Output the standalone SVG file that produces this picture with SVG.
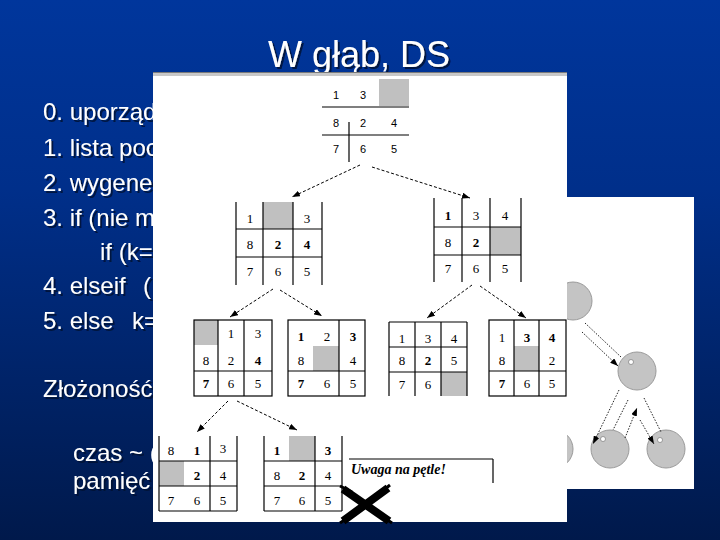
<svg xmlns="http://www.w3.org/2000/svg" width="720" height="540" viewBox="0 0 720 540">
<defs>
<linearGradient id="bg" x1="0" y1="0" x2="0" y2="1">
<stop offset="0" stop-color="#00369c"/>
<stop offset="0.35" stop-color="#002f8a"/>
<stop offset="1" stop-color="#00194b"/>
</linearGradient>
<filter id="sh" x="-5%" y="-20%" width="115%" height="150%"><feDropShadow dx="2" dy="2" stdDeviation="0.4" flood-color="#000a30" flood-opacity="0.8"/></filter>
<marker id="ah" viewBox="0 0 8 6" refX="8" refY="3" markerWidth="8" markerHeight="6" orient="auto" markerUnits="userSpaceOnUse"><path d="M0,0 L8,3 L0,6 z" fill="#000"/></marker>
</defs>
<style>
.t{font-family:"Liberation Sans",Arial,sans-serif;font-size:24px;fill:#fff}
.g line,.g rect.o{stroke:#000;stroke-width:1.2;fill:none}
.gray{fill:#c0c0c0}
.n{font-family:"Liberation Serif","Times New Roman",serif;font-size:13px;text-anchor:middle;fill:#000}
.r{font-family:"Liberation Sans",Arial,sans-serif;font-size:11px;text-anchor:middle;fill:#000}
.c line{stroke:#000;stroke-width:1;stroke-dasharray:3 2;marker-end:url(#ah)}
.d line{stroke:#222;stroke-width:1;stroke-dasharray:1.5 1.5}
.d line.a{marker-end:url(#ah)}
.ci{fill:#c4c4c4;stroke:#9a9a9a;stroke-width:1}
.dot{fill:#fff;stroke:#666;stroke-width:0.6}
</style>
<rect x="0" y="0" width="720" height="540" fill="url(#bg)"/>

<text x="359" y="67" text-anchor="middle" font-family="Liberation Sans, Arial, sans-serif" font-size="36" fill="#fff" filter="url(#sh)">W głąb, DS</text>

<g id="list" class="t" filter="url(#sh)">
<text x="43" y="120">0. uporządk</text>
<text x="43" y="156">1. lista pocz</text>
<text x="43" y="191">2. wygener</text>
<text x="43" y="226">3. if (nie ma</text>
<text x="100" y="260">if (k==</text>
<text x="43" y="294">4. elseif <tspan x="143">(</tspan></text>
<text x="43" y="329">5. else <tspan x="132">k=</tspan></text>
<text x="43" y="397">Złożoność</text>
<text x="73" y="461">czas ~ (</text>
<text x="73" y="489">pamięć</text>
</g>

<g id="image2">
<rect x="540" y="197" width="154" height="292" fill="#fff"/>
<g id="c0"><circle class="ci" cx="573" cy="301" r="19"/></g>
<g id="c1"><circle class="ci" cx="637" cy="371" r="19"/><circle class="dot" cx="631" cy="362" r="2.5"/></g>
<g id="c2"><circle class="ci" cx="554" cy="449" r="19"/></g>
<g id="c3"><circle class="ci" cx="610" cy="449" r="19"/><circle class="dot" cx="603" cy="439" r="2.5"/></g>
<g id="c4"><circle class="ci" cx="666" cy="449" r="19"/><circle class="dot" cx="660" cy="440" r="2.5"/></g>
<g id="tree-edges" class="d">
<line x1="585" y1="323" x2="621" y2="357"/>
<line class="a" x1="582" y1="332" x2="618" y2="366"/>
<line class="a" x1="619" y1="390" x2="593" y2="444"/>
<line x1="628" y1="400" x2="613" y2="430"/>
<line class="a" x1="625" y1="438" x2="637" y2="408"/>
<line x1="644" y1="398" x2="661" y2="432"/>
<line class="a" x1="640" y1="420" x2="654" y2="444"/>
</g>
</g>

<g id="image1">
<rect x="153" y="72" width="414" height="450" fill="#fff"/>
<rect x="153" y="72" width="414" height="4" fill="#c8c8c8"/>
<line x1="153" y1="72.5" x2="567" y2="72.5" stroke="#7a7a7a" stroke-width="1"/>
</g>

<g id="root" class="g">
<rect class="gray" x="379" y="79" width="30" height="27"/>
<line x1="322" y1="107" x2="409" y2="107"/>
<line x1="322" y1="135" x2="409" y2="135"/>
<line x1="349" y1="122" x2="349" y2="162"/>
<text class="r" x="336" y="99">1</text><text class="r" x="363" y="99">3</text>
<text class="r" x="336" y="127">8</text><text class="r" x="363" y="127">2</text><text class="r" x="394" y="127">4</text>
<text class="r" x="336" y="153">7</text><text class="r" x="363" y="153">6</text><text class="r" x="394" y="153">5</text>
</g>

<g id="l1a" class="g">
<rect class="gray" x="263" y="202" width="30" height="27"/>
<line x1="236" y1="202" x2="236" y2="285"/><line x1="263" y1="202" x2="263" y2="285"/>
<line x1="293" y1="202" x2="293" y2="285"/><line x1="322" y1="202" x2="322" y2="285"/>
<line x1="236" y1="229" x2="322" y2="229"/><line x1="236" y1="257" x2="322" y2="257"/>
<text class="n" x="250" y="223">1</text><text class="n" x="307" y="223">3</text>
<text class="n" x="250" y="249">8</text><text class="n" x="278" y="249" font-weight="bold">2</text><text class="n" x="307" y="249" font-weight="bold">4</text>
<text class="n" x="250" y="276">7</text><text class="n" x="278" y="276">6</text><text class="n" x="307" y="276">5</text>
</g>

<g id="l1b" class="g">
<rect class="gray" x="490" y="227" width="31" height="28"/>
<line x1="434" y1="198" x2="434" y2="282"/><line x1="462" y1="198" x2="462" y2="282"/>
<line x1="490" y1="198" x2="490" y2="282"/><line x1="521" y1="198" x2="521" y2="282"/>
<line x1="434" y1="227" x2="521" y2="227"/><line x1="434" y1="255" x2="521" y2="255"/>
<text class="n" x="448" y="220" font-weight="bold">1</text><text class="n" x="476" y="220">3</text><text class="n" x="505" y="220">4</text>
<text class="n" x="448" y="247">8</text><text class="n" x="476" y="247" font-weight="bold">2</text>
<text class="n" x="448" y="273">7</text><text class="n" x="476" y="273">6</text><text class="n" x="505" y="273">5</text>
</g>

<g id="l2a" class="g">
<rect class="gray" x="194" y="320" width="24" height="25"/>
<rect class="o" x="194" y="320" width="78" height="76"/>
<line x1="218" y1="320" x2="218" y2="396"/><line x1="244" y1="320" x2="244" y2="396"/>
<line x1="194" y1="371" x2="272" y2="371"/>
<text class="n" x="231" y="338">1</text><text class="n" x="258" y="338">3</text>
<text class="n" x="206" y="365">8</text><text class="n" x="231" y="365">2</text><text class="n" x="258" y="365" font-weight="bold">4</text>
<text class="n" x="206" y="388" font-weight="bold">7</text><text class="n" x="231" y="388">6</text><text class="n" x="258" y="388">5</text>
</g>

<g id="l2b" class="g">
<rect class="gray" x="313" y="346" width="26" height="25"/>
<rect class="o" x="288" y="320" width="77" height="76"/>
<line x1="339" y1="320" x2="339" y2="396"/>
<line x1="288" y1="371" x2="365" y2="371"/>
<text class="n" x="301" y="341" font-weight="bold">1</text><text class="n" x="327" y="341">2</text><text class="n" x="353" y="341" font-weight="bold">3</text>
<text class="n" x="301" y="365">8</text><text class="n" x="353" y="365">4</text>
<text class="n" x="301" y="388" font-weight="bold">7</text><text class="n" x="327" y="388">6</text><text class="n" x="353" y="388">5</text>
</g>

<g id="l2c" class="g">
<rect class="gray" x="441" y="372" width="26" height="24"/>
<line x1="389" y1="322" x2="389" y2="396"/><line x1="415" y1="322" x2="415" y2="396"/>
<line x1="441" y1="322" x2="441" y2="396"/><line x1="467" y1="322" x2="467" y2="396"/>
<line x1="389" y1="322" x2="467" y2="322"/><line x1="389" y1="347" x2="467" y2="347"/><line x1="389" y1="372" x2="467" y2="372"/>
<text class="n" x="402" y="343">1</text><text class="n" x="428" y="343">3</text><text class="n" x="454" y="343">4</text>
<text class="n" x="402" y="365">8</text><text class="n" x="428" y="365" font-weight="bold">2</text><text class="n" x="454" y="365">5</text>
<text class="n" x="402" y="389">7</text><text class="n" x="428" y="389">6</text>
</g>

<g id="l2d" class="g">
<rect class="gray" x="514" y="346" width="25" height="25"/>
<rect class="o" x="489" y="320" width="77" height="76"/>
<line x1="514" y1="320" x2="514" y2="396"/><line x1="539" y1="320" x2="539" y2="396"/>
<line x1="489" y1="371" x2="566" y2="371"/>
<text class="n" x="502" y="342">1</text><text class="n" x="527" y="342" font-weight="bold">3</text><text class="n" x="552" y="342" font-weight="bold">4</text>
<text class="n" x="502" y="365">8</text><text class="n" x="552" y="365">2</text>
<text class="n" x="502" y="388" font-weight="bold">7</text><text class="n" x="527" y="388">6</text><text class="n" x="552" y="388">5</text>
</g>

<g id="l3a" class="g">
<rect class="gray" x="159" y="461" width="25" height="25"/>
<line x1="159" y1="436" x2="159" y2="511"/><line x1="210" y1="436" x2="210" y2="511"/><line x1="237" y1="436" x2="237" y2="511"/>
<line x1="159" y1="461" x2="237" y2="461"/><line x1="159" y1="486" x2="237" y2="486"/><line x1="159" y1="511" x2="237" y2="511"/>
<text class="n" x="171" y="455">8</text><text class="n" x="197" y="455" font-weight="bold">1</text><text class="n" x="223" y="453">3</text>
<text class="n" x="197" y="480" font-weight="bold">2</text><text class="n" x="223" y="480">4</text>
<text class="n" x="171" y="505">7</text><text class="n" x="197" y="505">6</text><text class="n" x="223" y="505">5</text>
</g>

<g id="l3b" class="g">
<rect class="gray" x="289" y="436" width="26" height="25"/>
<line x1="264" y1="436" x2="264" y2="511"/><line x1="315" y1="436" x2="315" y2="511"/><line x1="342" y1="436" x2="342" y2="511"/>
<line x1="264" y1="461" x2="342" y2="461"/><line x1="264" y1="486" x2="342" y2="486"/><line x1="264" y1="511" x2="342" y2="511"/>
<text class="n" x="277" y="455" font-weight="bold">1</text><text class="n" x="328" y="455" font-weight="bold">3</text>
<text class="n" x="277" y="480">8</text><text class="n" x="302" y="480" font-weight="bold">2</text><text class="n" x="328" y="480">4</text>
<text class="n" x="277" y="505">7</text><text class="n" x="302" y="505">6</text><text class="n" x="328" y="505">5</text>
</g>

<g id="note">
<line x1="349" y1="459" x2="493" y2="459" stroke="#000" stroke-width="1.2"/>
<line x1="493" y1="459" x2="493" y2="483" stroke="#000" stroke-width="1.2"/>
<text x="351" y="474" font-family="Liberation Serif, Times New Roman, serif" font-size="14" font-weight="bold" font-style="italic" fill="#000">Uwaga na pętle!</text>
</g>

<g id="cross">
<path d="M343,489 L389,521 M388,488 L343,521" stroke="#000" stroke-width="8" fill="none"/>
<path d="M340,486 L352,492 M390,485 L380,493 M340,523 L352,515 M392,523 L380,515" stroke="#000" stroke-width="3" fill="none"/>
</g>

<g id="connectors" class="c">
<line x1="360" y1="165" x2="292" y2="197"/>
<line x1="372" y1="167" x2="470" y2="198"/>
<line x1="273" y1="289" x2="230" y2="317"/>
<line x1="280" y1="290" x2="322" y2="316"/>
<line x1="472" y1="285" x2="427" y2="318"/>
<line x1="480" y1="286" x2="526" y2="318"/>
<line x1="228" y1="401" x2="197" y2="432"/>
<line x1="237" y1="401" x2="297" y2="430"/>
</g>
</svg>
